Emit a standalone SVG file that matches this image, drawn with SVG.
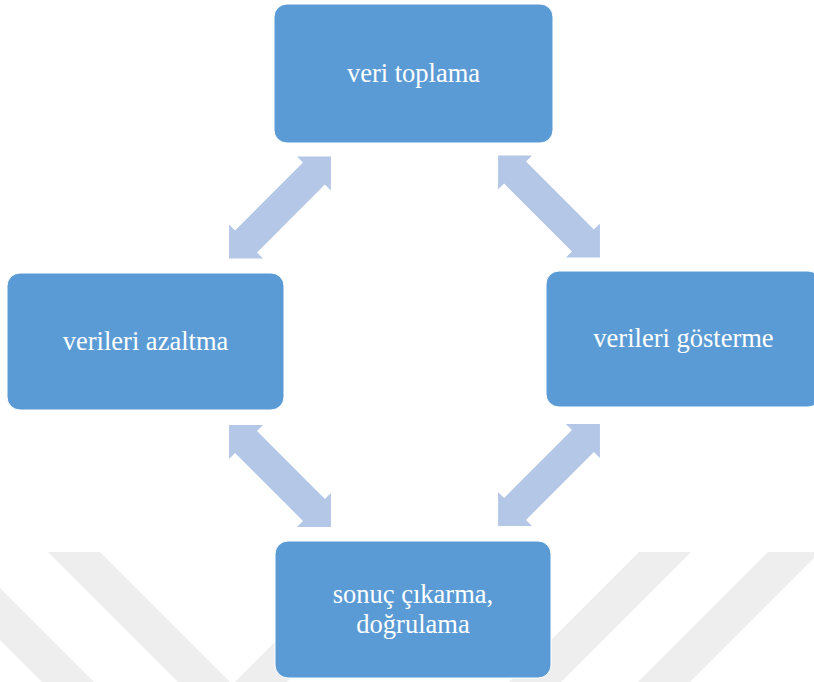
<svg xmlns="http://www.w3.org/2000/svg" width="814" height="682" viewBox="0 0 814 682">
  <style>
    .box { fill: #5B9BD5; stroke: #FFFFFF; stroke-width: 1; }
    .label { fill: #FFFFFF; font-family: "Liberation Serif", "Times New Roman", serif; font-size: 26.5px; text-anchor: middle; }
    .arrow { fill: #B4C7E7; }
    .stripe { fill: #EEEEEE; }
  </style>
  <defs>
    <path id="dblArrow" d="M -72,0 L -48,-24 L -48,-15.5 L 48,-15.5 L 48,-24 L 72,0 L 48,24 L 48,15.5 L -48,15.5 L -48,24 Z"/>
  </defs>
  <rect x="0" y="0" width="814" height="682" fill="#FFFFFF"/>
  <g id="watermark">
    <polygon class="stripe" points="-88,552 -36,552 94,682 42,682"/>
    <polygon class="stripe" points="48,552 100,552 230,682 178,682"/>
    <polygon class="stripe" points="365,552 417,552 287,682 235,682"/>
    <polygon class="stripe" points="639,552 691,552 561,682 509,682"/>
    <polygon class="stripe" points="768,552 820,552 690,682 638,682"/>
  </g>
  <g id="connectors">
    <use href="#dblArrow" class="arrow" transform="translate(280,207.5) rotate(-45)"/>
    <use href="#dblArrow" class="arrow" transform="translate(549,206.5) rotate(45)"/>
    <use href="#dblArrow" class="arrow" transform="translate(280,476) rotate(45)"/>
    <use href="#dblArrow" class="arrow" transform="translate(549,475) rotate(-45)"/>
  </g>
  <g id="node-veri-toplama">
    <rect class="box" x="274" y="4" width="279" height="139" rx="13" ry="13"/>
    <text class="label" x="413.5" y="82">veri toplama</text>
  </g>
  <g id="node-verileri-azaltma">
    <rect class="box" x="7" y="273" width="277" height="137" rx="13" ry="13"/>
    <text class="label" x="145.5" y="350">verileri azaltma</text>
  </g>
  <g id="node-verileri-gosterme">
    <rect class="box" x="546" y="271" width="275" height="136" rx="13" ry="13"/>
    <text class="label" x="683.5" y="347">verileri gösterme</text>
  </g>
  <g id="node-sonuc-cikarma">
    <rect class="box" x="275" y="541" width="276" height="137" rx="13" ry="13"/>
    <text class="label" x="413" y="603">sonuç çıkarma,</text>
    <text class="label" x="413" y="633">doğrulama</text>
  </g>
</svg>
